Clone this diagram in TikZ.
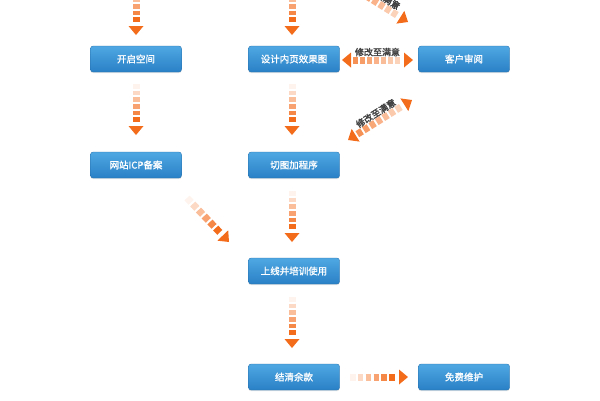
\documentclass[tikz,border=0pt]{standalone}
\usepackage{fontspec}
\usepackage{tikz}
\usetikzlibrary{calc,shadows}
\newfontfamily\cjk[FakeBold=1.2]{Noto Sans CJK SC}
\newfontfamily\cjktag[FakeBold=2]{Noto Sans CJK SC}
\definecolor{arrorange}{HTML}{F36C1C}
\definecolor{boxtop}{HTML}{4FA7E2}
\definecolor{boxbot}{HTML}{2A80C6}

\newcommand{\fadeshaft}[5]{%
  \foreach \k in {1,...,#3}{
    \pgfmathsetmacro\lo{(\k-1)/#3}
    \pgfmathsetmacro\hi{(\k-0.28)/#3}
    \pgfmathtruncatemacro\mix{#4+(#5-#4)*(\k-1)/(#3-1)}
    \draw[line width=7pt,arrorange!\mix!white] ($(#1)!\lo!(#2)$) -- ($(#1)!\hi!(#2)$);
  }}
\newcommand{\fadehead}[2]{%
  \path ($(#2)!9pt!(#1)$) coordinate (hb);
  \fill[arrorange] ($(hb)!7.5pt!90:(#2)$) -- (#2) -- ($(hb)!7.5pt!-90:(#2)$) -- cycle;}

\begin{document}
\begin{tikzpicture}[x=1pt,y=-1pt,
    box/.style={rounded corners=2.5pt,top color=boxtop,bottom color=boxbot,
      draw=boxbot!85!black,line width=0.3pt,
      drop shadow={shadow xshift=0pt,shadow yshift=-1.2pt,opacity=0.2},
      minimum width=91pt,minimum height=26pt,inner sep=0pt,
      text=white,font=\cjk\fontsize{9.5}{10}\selectfont},
    tag/.style={font=\cjktag\fontsize{9}{9}\selectfont,text=black!75,inner sep=0.5pt}]
  \useasboundingbox (0,0) rectangle (600,400);
  \clip (0,0) rectangle (600,400);

  \foreach \n/\x/\l in{
    open/{(136,59)}/{开启空间},
    design/{(294,59)}/{设计内页效果图},
    review/{(464,59)}/{客户审阅},
    icp/{(136,165)}/{网站ICP备案},
    cut/{(294,165)}/{切图加程序},
    online/{(294,271)}/{上线并培训使用},
    settle/{(294,377)}/{结清余款},
    maint/{(464,377)}/{免费维护}
    }
    {
      \node[box] (\n) at \x {\l};
    }

  \foreach \n/\p/\q in{
    a1/{(136,-16)}/{(136,35)},
    a2/{(292,-16)}/{(292,35)},
    a3/{(136,84)}/{(136,135)},
    a4/{(292,84)}/{(292,135)},
    a5/{(187,198)}/{(229,242)},
    a6/{(292,191)}/{(292,242)},
    a7/{(292,297)}/{(292,348)},
    a8/{(350,377)}/{(408,377)}
    }
    {
      \path \p coordinate (\n-s) \q coordinate (\n-e);
      \path ($(\n-e)!11pt!(\n-s)$) coordinate (\n-b);
      \fadeshaft{\n-s}{\n-b}{6}{8}{100}
      \fadehead{\n-s}{\n-e}
    }

  \foreach \n/\p/\q in{
    d1/{(342,60)}/{(413,60)},
    d2/{(348,140)}/{(412,100)},
    d3/{(344,-18)}/{(408,22)}
    }
    {
      \path \p coordinate (\n-s) \q coordinate (\n-e);
      \path ($(\n-s)!11pt!(\n-e)$) coordinate (\n-bs);
      \path ($(\n-e)!11pt!(\n-s)$) coordinate (\n-be);
      \fadeshaft{\n-bs}{\n-be}{7}{75}{30}
      \fadehead{\n-e}{\n-s}
      \fadehead{\n-s}{\n-e}
      \path (\n-s) -- (\n-e) node[midway,sloped,above=3pt,tag] {修改至满意};
    }
\end{tikzpicture}
\end{document}
